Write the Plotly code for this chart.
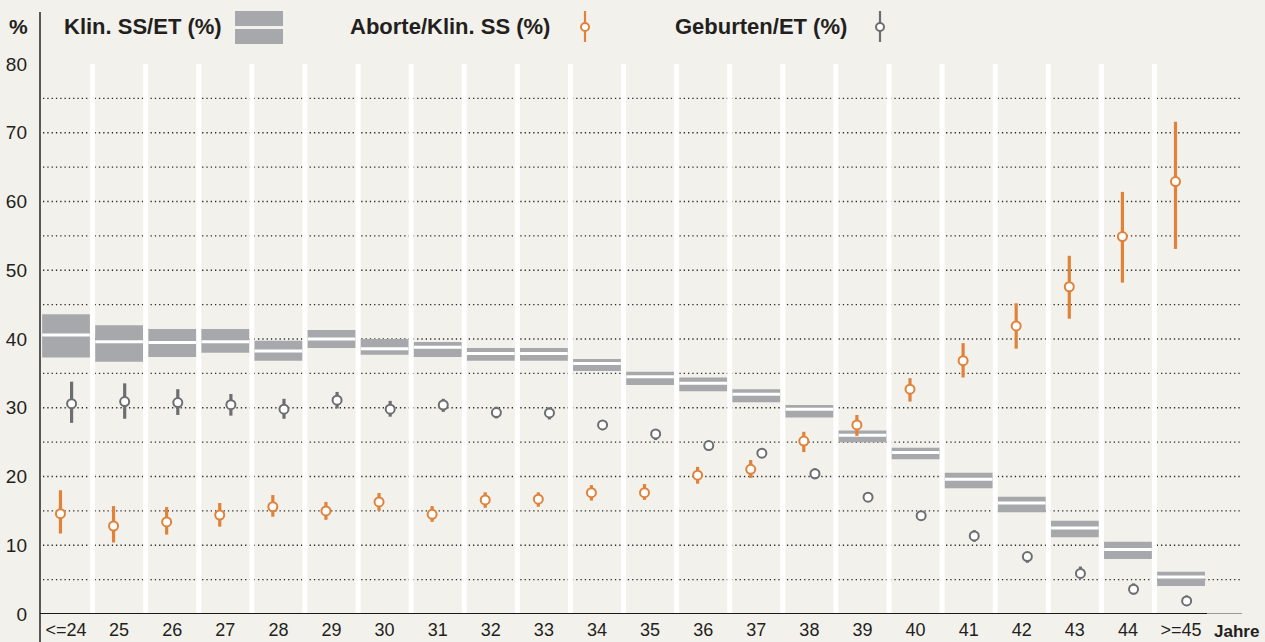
import plotly.graph_objects as go

# ---------------- data ----------------
categories = ["<=24", "25", "26", "27", "28", "29", "30", "31", "32", "33", "34",
              "35", "36", "37", "38", "39", "40", "41", "42", "43", "44", ">=45"]

klin_mid = [40.6, 39.6, 39.5, 39.6, 38.25, 40.0, 38.6, 38.8, 37.9, 37.9, 36.45,
            34.5, 33.55, 31.95, 29.8, 26.0, 23.5, 19.6, 16.15, 12.5, 9.4, 5.4]
klin_low = [37.3, 36.7, 37.4, 38.0, 36.85, 38.7, 37.7, 37.4, 36.85, 36.85, 35.35,
            33.3, 32.4, 30.8, 28.6, 25.0, 22.5, 18.3, 14.8, 11.15, 8.0, 4.07]
klin_high = [43.6, 42.0, 41.45, 41.45, 39.75, 41.3, 40.0, 39.56, 38.7, 38.7, 37.1,
             35.25, 34.4, 32.7, 30.4, 26.7, 24.2, 20.55, 17.06, 13.58, 10.5, 6.15]

abort_mid = [14.6, 12.8, 13.4, 14.4, 15.6, 15.0, 16.3, 14.5, 16.6, 16.7, 17.65,
             17.65, 20.2, 21.05, 25.15, 27.5, 32.7, 36.85, 41.9, 47.6, 54.9, 62.9]
abort_low = [11.7, 10.4, 11.55, 12.7, 14.15, 13.7, 15.0, 13.4, 15.45, 15.6, 16.5,
             16.6, 18.95, 19.8, 23.55, 25.9, 30.9, 34.4, 38.6, 42.95, 48.2, 53.1]
abort_high = [18.0, 15.7, 15.55, 16.15, 17.3, 16.3, 17.6, 15.7, 17.7, 17.7, 18.75,
              18.9, 21.4, 22.4, 26.5, 28.95, 34.3, 39.4, 45.2, 52.1, 61.4, 71.6]

geb_mid = [30.6, 30.9, 30.75, 30.45, 29.8, 31.1, 29.8, 30.4, 29.3, 29.25, 27.5,
           26.2, 24.5, 23.4, 20.4, 17.0, 14.3, 11.35, 8.35, 5.9, 3.6, 1.9]
geb_low = [27.8, 28.4, 28.95, 28.85, 28.4, 29.9, 28.7, 29.4, 28.45, 28.3, 26.75,
           25.3, 23.85, 22.7, 19.6, 16.3, 13.8, 10.5, 7.45, 5.2, 2.85, 1.3]
geb_high = [33.8, 33.55, 32.7, 32.0, 31.3, 32.3, 31.0, 31.3, 30.15, 30.05, 28.1,
            26.85, 25.1, 23.95, 21.2, 17.4, 14.65, 12.2, 8.9, 6.9, 4.45, 2.7]

y_ticks = [0, 10, 20, 30, 40, 50, 60, 70, 80]
grid_vals = [5, 10, 15, 20, 25, 30, 35, 40, 45, 50, 55, 60, 65, 70, 75]

legend_labels = ["Klin. SS/ET (%)", "Aborte/Klin. SS (%)", "Geburten/ET (%)"]

# ---------------- style ----------------
BG = "#f3f1ec"
BOX = "#a7a8ab"
ORANGE = "#e0823a"
GREY = "#6d6e71"
TXT = "#231f20"
FONT = "Liberation Sans, Arial, sans-serif"
BFONT = "Liberation Sans, Arial, sans-serif"

W, H = 1265, 642
L, R, T, B = 40, 25, 64, 28
PW, PH = W - L - R, H - T - B


def pxx(px):
    return (px - L) / PW


def pxy(py):
    return (H - B - py) / PH


n = len(categories)
idx = list(range(n))
off = 0.105

fig = go.Figure()

# Klin. SS/ET boxes
fig.add_trace(go.Bar(
    x=idx, base=klin_low, y=[h - l for h, l in zip(klin_high, klin_low)],
    width=0.9, marker=dict(color=BOX, line=dict(width=0)), showlegend=False,
    hoverinfo="skip"))
fig.add_trace(go.Scatter(
    x=idx, y=klin_mid, mode="markers",
    marker=dict(symbol="line-ew", size=34, line=dict(color="white", width=3)),
    showlegend=False, hoverinfo="skip"))

# Aborte
fig.add_trace(go.Scatter(
    x=[i - off for i in idx], y=abort_mid, mode="markers",
    marker=dict(symbol="circle", size=9, color="white", line=dict(color=ORANGE, width=2)),
    error_y=dict(type="data", symmetric=False,
                 array=[h - m for h, m in zip(abort_high, abort_mid)],
                 arrayminus=[m - l for m, l in zip(abort_mid, abort_low)],
                 color=ORANGE, thickness=3.2, width=0),
    showlegend=False, hoverinfo="skip"))

# Geburten
fig.add_trace(go.Scatter(
    x=[i + off for i in idx], y=geb_mid, mode="markers",
    marker=dict(symbol="circle", size=9, color="white", line=dict(color=GREY, width=2)),
    error_y=dict(type="data", symmetric=False,
                 array=[h - m for h, m in zip(geb_high, geb_mid)],
                 arrayminus=[m - l for m, l in zip(geb_mid, geb_low)],
                 color=GREY, thickness=3.2, width=0),
    showlegend=False, hoverinfo="skip"))

shapes = []
# white column separators
for i in range(n - 1):
    shapes.append(dict(type="line", xref="x", yref="y", x0=i + 0.5, x1=i + 0.5,
                       y0=0, y1=80, line=dict(color="white", width=5), layer="below"))
# dotted grid lines
for v in grid_vals:
    shapes.append(dict(type="line", xref="paper", yref="y", x0=pxx(43), x1=pxx(1240),
                       y0=v, y1=v, line=dict(color="#2a2a2a", width=1.3, dash="1.3px,3px"),
                       layer="between"))
# axis lines
shapes.append(dict(type="line", xref="paper", yref="paper", x0=0, x1=0,
                   y0=pxy(642), y1=pxy(12), line=dict(color="#333333", width=1.6)))
shapes.append(dict(type="line", xref="paper", yref="y", x0=0, x1=pxx(1207),
                   y0=0, y1=0, line=dict(color="#1a1a1a", width=2)))
shapes.append(dict(type="line", xref="paper", yref="y", x0=pxx(1207), x1=pxx(1242),
                   y0=0, y1=0, line=dict(color="#9a9a9a", width=2)))

# legend symbols
shapes.append(dict(type="rect", xref="paper", yref="paper", x0=pxx(235), x1=pxx(283),
                   y0=pxy(26), y1=pxy(11), fillcolor=BOX, line=dict(width=0)))
shapes.append(dict(type="rect", xref="paper", yref="paper", x0=pxx(235), x1=pxx(283),
                   y0=pxy(44), y1=pxy(29), fillcolor=BOX, line=dict(width=0)))
for cx, col in [(585, ORANGE), (880, GREY)]:
    shapes.append(dict(type="line", xref="paper", yref="paper", x0=pxx(cx), x1=pxx(cx),
                       y0=pxy(42), y1=pxy(11), line=dict(color=col, width=2.2)))
    shapes.append(dict(type="circle", xref="paper", yref="paper",
                       x0=pxx(cx - 4), x1=pxx(cx + 4), y0=pxy(31), y1=pxy(23),
                       fillcolor="white", line=dict(color=col, width=2)))

annotations = []
for txt, px in zip(legend_labels, [62, 348, 673]):
    annotations.append(dict(text="<b>%s</b>" % txt, xref="paper", yref="paper",
                            x=pxx(px), y=pxy(27), xanchor="left", yanchor="middle",
                            showarrow=False, font=dict(family=BFONT, size=22, color=TXT)))
annotations.append(dict(text="<b>%</b>", xref="paper", yref="paper", x=pxx(19),
                        y=pxy(27), xanchor="center", yanchor="middle", showarrow=False,
                        font=dict(family=BFONT, size=21, color=TXT)))
annotations.append(dict(text="<b>Jahre</b>", xref="paper", yref="paper", x=pxx(1236),
                        y=pxy(631), xanchor="center", yanchor="middle", showarrow=False,
                        font=dict(family=BFONT, size=17, color=TXT)))

fig.update_layout(
    width=W, height=H,
    margin=dict(l=L, r=R, t=T, b=B, pad=0, autoexpand=False),
    paper_bgcolor=BG, plot_bgcolor=BG,
    barmode="overlay",
    showlegend=False,
    shapes=shapes,
    annotations=annotations,
    xaxis=dict(range=[-0.49, 22.11], tickvals=idx, ticktext=categories,
               showgrid=False, zeroline=False, showline=False, ticks="",
               ticklabelstandoff=3, automargin=False,
               tickfont=dict(family=FONT, size=18, color=TXT), fixedrange=True),
    yaxis=dict(range=[0, 80], tickvals=y_ticks, showgrid=False, zeroline=False,
               showline=False, ticks="", ticklabelstandoff=12, automargin=False,
               tickfont=dict(family=FONT, size=19, color=TXT), fixedrange=True),
)

fig.write_html(
    "out.html",
    config={"displayModeBar": False, "staticPlot": True},
    post_script="document.body.style.margin='0px';document.body.style.padding='0px';"
                "document.documentElement.style.background='%s';" % BG,
)
